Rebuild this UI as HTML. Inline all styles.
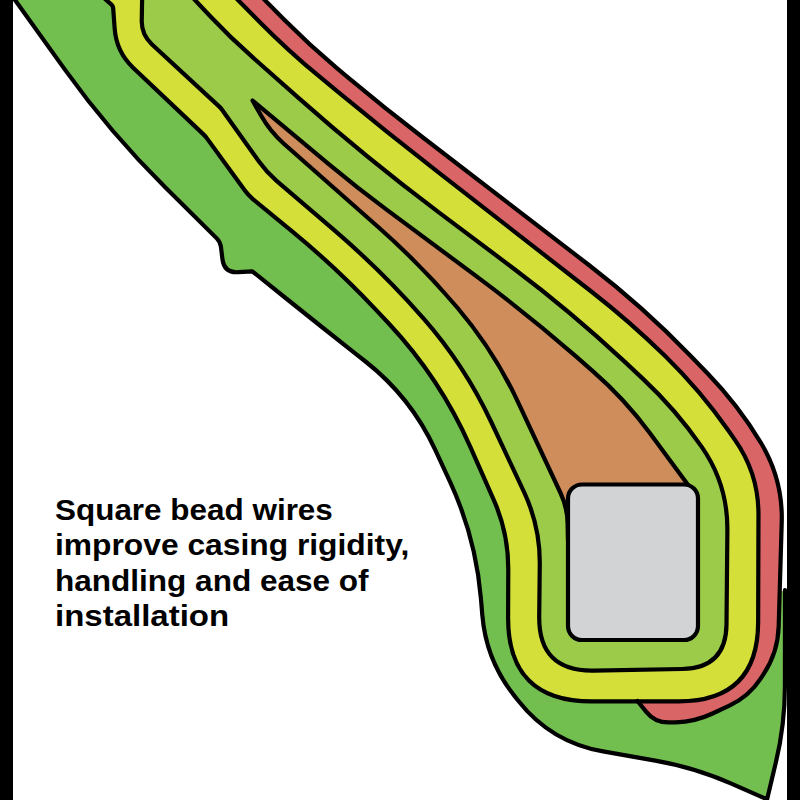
<!DOCTYPE html>
<html><head><meta charset="utf-8"><style>
html,body{margin:0;padding:0;background:#fff;width:800px;height:800px;overflow:hidden;position:relative}
.t{position:absolute;left:0;top:0;font-family:"Liberation Sans",sans-serif;font-weight:bold;color:#000;white-space:nowrap}
.t span{position:absolute;display:block;line-height:1;transform-origin:0 0}
</style></head><body>
<svg width="800" height="800" viewBox="0 0 800 800" style="position:absolute;left:0;top:0">
<path d="M10.70,-6.00 L64.91,69.65 Q110.10,132.70 165.20,187.30 L216.75,238.38 Q220.30,241.90 220.92,246.86 L222.45,259.13 Q224.20,273.10 238.25,272.20 L252.30,271.30 L286.50,298.75 Q320.70,326.20 355.14,353.35 L365.80,361.75 Q410.90,397.30 435.01,449.42 L450.19,482.24 Q475.80,537.60 480.91,598.39 L482.33,615.26 Q486.10,660.10 514.04,695.37 L518.70,701.25 Q551.30,742.40 603.02,751.43 L655.30,760.57 Q694.40,767.40 730.75,783.35 L767.10,799.30 L776.00,761.85 Q784.90,724.40 784.93,685.91 L785.00,590.00 L780.60,592.00 L782.08,522.29 Q783.00,479.30 760.73,442.52 L760.45,442.05 Q737.90,404.80 707.64,373.49 L690.45,355.70 Q643.00,306.60 588.86,265.00 L422.62,137.27 Q384.00,107.60 346.65,76.35 L336.85,68.15 Q309.30,45.10 284.05,19.55 L258.80,-6.00 Z" fill="#72bf50"/>
<path d="M258.80,-6.00 L284.05,19.55 Q309.30,45.10 336.85,68.15 L346.65,76.35 Q384.00,107.60 422.62,137.27 L588.86,265.00 Q643.00,306.60 690.45,355.70 L707.64,373.49 Q737.90,404.80 760.45,442.05 L760.73,442.52 Q783.00,479.30 781.73,522.28 L778.67,626.51 Q777.90,652.50 763.57,674.19 L760.47,678.88 Q748.90,696.40 729.89,705.32 L712.00,713.73 Q694.80,721.80 675.81,722.28 L668.97,722.45 Q655.00,722.80 646.25,711.90 L637.50,701.00 L400.00,701.25 L678.90,701.21 Q757.90,701.20 758.14,622.20 L758.47,514.70 Q758.60,473.70 735.08,440.12 L728.90,431.30 Q700.60,390.90 665.40,356.35 L665.40,356.35 Q630.20,321.80 591.29,291.49 L436.49,170.93 Q386.50,132.00 337.65,91.65 L319.90,76.99 Q288.80,51.30 260.40,22.65 L232.00,-6.00 Z" fill="#d96567"/>
<path d="M101.70,-4.00 L111.50,4.67 Q113.00,6.00 113.15,7.99 L114.70,28.95 Q116.40,51.90 133.11,67.73 L203.22,134.14 Q205.40,136.20 207.16,138.63 L244.68,190.34 Q248.20,195.20 252.83,199.01 L292.75,231.85 Q337.30,268.50 376.71,310.63 L388.77,323.53 Q440.00,378.30 470.31,446.90 L493.85,500.17 Q508.40,533.10 508.27,569.10 L508.10,617.30 Q507.80,701.50 592.00,701.40 L678.90,701.29 Q757.90,701.20 758.14,622.20 L758.47,514.70 Q758.60,473.70 735.08,440.12 L728.90,431.30 Q700.60,390.90 665.40,356.35 L665.40,356.35 Q630.20,321.80 591.29,291.49 L436.49,170.93 Q386.50,132.00 337.65,91.65 L319.90,76.99 Q288.80,51.30 260.40,22.65 L232.00,-6.00 Z" fill="#d4df3a"/>
<path d="M142.20,-6.00 L141.74,20.70 Q141.50,34.70 151.78,44.20 L219.03,106.34 Q220.50,107.70 221.66,109.33 L259.15,161.82 Q266.70,172.40 276.58,180.85 L333.34,229.39 Q381.30,270.40 422.95,317.80 L423.02,317.87 Q464.60,365.20 491.32,422.25 L524.08,492.19 Q540.20,526.60 539.78,564.60 L539.21,616.60 Q538.60,671.60 593.59,670.60 L682.11,669.00 Q726.10,668.20 726.51,624.20 L727.38,530.13 Q727.80,484.60 701.90,447.15 L701.90,447.15 Q676.00,409.70 642.73,378.61 L623.50,360.65 Q571.00,311.60 513.55,268.46 L438.82,212.34 Q366.20,157.80 298.20,97.60 L252.53,57.16 Q230.20,37.40 209.75,15.70 L189.30,-6.00 Z" fill="#9ccb49"/>
<path d="M568.00,540.00 L567.64,523.50 Q567.30,507.50 560.53,493.01 L518.13,402.30 Q494.20,351.10 457.65,308.00 L457.65,308.00 Q421.10,264.90 378.75,227.49 L283.61,143.45 Q270.20,131.60 261.35,116.05 L252.50,100.50 L329.35,164.55 Q357.00,187.60 385.90,209.07 L476.23,276.18 Q527.80,314.50 576.25,356.70 L593.03,371.31 Q624.70,398.90 649.61,432.72 L694.00,493.00 L640,560 Z" fill="#cf8d5b"/>
<g fill="none" stroke="#000" stroke-width="4.2" stroke-linejoin="round" stroke-linecap="round">
<path d="M10.70,-6.00 L64.91,69.65 Q110.10,132.70 165.20,187.30 L216.75,238.38 Q220.30,241.90 220.92,246.86 L222.45,259.13 Q224.20,273.10 238.25,272.20 L252.30,271.30 L286.50,298.75 Q320.70,326.20 355.14,353.35 L365.80,361.75 Q410.90,397.30 435.01,449.42 L450.19,482.24 Q475.80,537.60 480.91,598.39 L482.33,615.26 Q486.10,660.10 514.04,695.37 L518.70,701.25 Q551.30,742.40 603.02,751.43 L655.30,760.57 Q694.40,767.40 730.75,783.35 L767.10,799.30 L776.00,761.85 Q784.90,724.40 784.93,685.91 L785.00,590.00"/>
<path d="M258.80,-6.00 L284.05,19.55 Q309.30,45.10 336.85,68.15 L346.65,76.35 Q384.00,107.60 422.62,137.27 L588.86,265.00 Q643.00,306.60 690.45,355.70 L707.64,373.49 Q737.90,404.80 760.45,442.05 L760.73,442.52 Q783.00,479.30 781.73,522.28 L778.67,626.51 Q777.90,652.50 763.57,674.19 L760.47,678.88 Q748.90,696.40 729.89,705.32 L712.00,713.73 Q694.80,721.80 675.81,722.28 L668.97,722.45 Q655.00,722.80 646.25,711.90 L637.50,701.00"/>
<path d="M101.70,-4.00 L111.50,4.67 Q113.00,6.00 113.15,7.99 L114.70,28.95 Q116.40,51.90 133.11,67.73 L203.22,134.14 Q205.40,136.20 207.16,138.63 L244.68,190.34 Q248.20,195.20 252.83,199.01 L292.75,231.85 Q337.30,268.50 376.71,310.63 L388.77,323.53 Q440.00,378.30 470.31,446.90 L493.85,500.17 Q508.40,533.10 508.27,569.10 L508.10,617.30 Q507.80,701.50 592.00,701.40 L678.90,701.29 Q757.90,701.20 758.14,622.20 L758.47,514.70 Q758.60,473.70 735.08,440.12 L728.90,431.30 Q700.60,390.90 665.40,356.35 L665.40,356.35 Q630.20,321.80 591.29,291.49 L436.49,170.93 Q386.50,132.00 337.65,91.65 L319.90,76.99 Q288.80,51.30 260.40,22.65 L232.00,-6.00"/>
<path d="M142.20,-6.00 L141.74,20.70 Q141.50,34.70 151.78,44.20 L219.03,106.34 Q220.50,107.70 221.66,109.33 L259.15,161.82 Q266.70,172.40 276.58,180.85 L333.34,229.39 Q381.30,270.40 422.95,317.80 L423.02,317.87 Q464.60,365.20 491.32,422.25 L524.08,492.19 Q540.20,526.60 539.78,564.60 L539.21,616.60 Q538.60,671.60 593.59,670.60 L682.11,669.00 Q726.10,668.20 726.51,624.20 L727.38,530.13 Q727.80,484.60 701.90,447.15 L701.90,447.15 Q676.00,409.70 642.73,378.61 L623.50,360.65 Q571.00,311.60 513.55,268.46 L438.82,212.34 Q366.20,157.80 298.20,97.60 L252.53,57.16 Q230.20,37.40 209.75,15.70 L189.30,-6.00"/>
<path d="M568.00,540.00 L567.64,523.50 Q567.30,507.50 560.53,493.01 L518.13,402.30 Q494.20,351.10 457.65,308.00 L457.65,308.00 Q421.10,264.90 378.75,227.49 L283.61,143.45 Q270.20,131.60 261.35,116.05 L252.50,100.50 L329.35,164.55 Q357.00,187.60 385.90,209.07 L476.23,276.18 Q527.80,314.50 576.25,356.70 L593.03,371.31 Q624.70,398.90 649.61,432.72 L694.00,493.00"/>
</g>
<rect x="568" y="484.5" width="130" height="155.5" rx="14" ry="14" fill="#d1d3d4" stroke="#000" stroke-width="4.2"/>
<rect x="0" y="0" width="13" height="800" fill="#000"/>
<rect x="787" y="0" width="13" height="800" fill="#000"/>
</svg>
<div class="t">
<span style="left:55px;top:494.6px;font-size:30px;transform:scaleX(1.048)">Square bead wires</span>
<span style="left:55px;top:530.1px;font-size:30px;transform:scaleX(1.059)">improve casing rigidity,</span>
<span style="left:55px;top:565.6px;font-size:30px;transform:scaleX(1.051)">handling and ease of</span>
<span style="left:55px;top:601.1px;font-size:30px;transform:scaleX(1.1)">installation</span>
</div>
</body></html>
